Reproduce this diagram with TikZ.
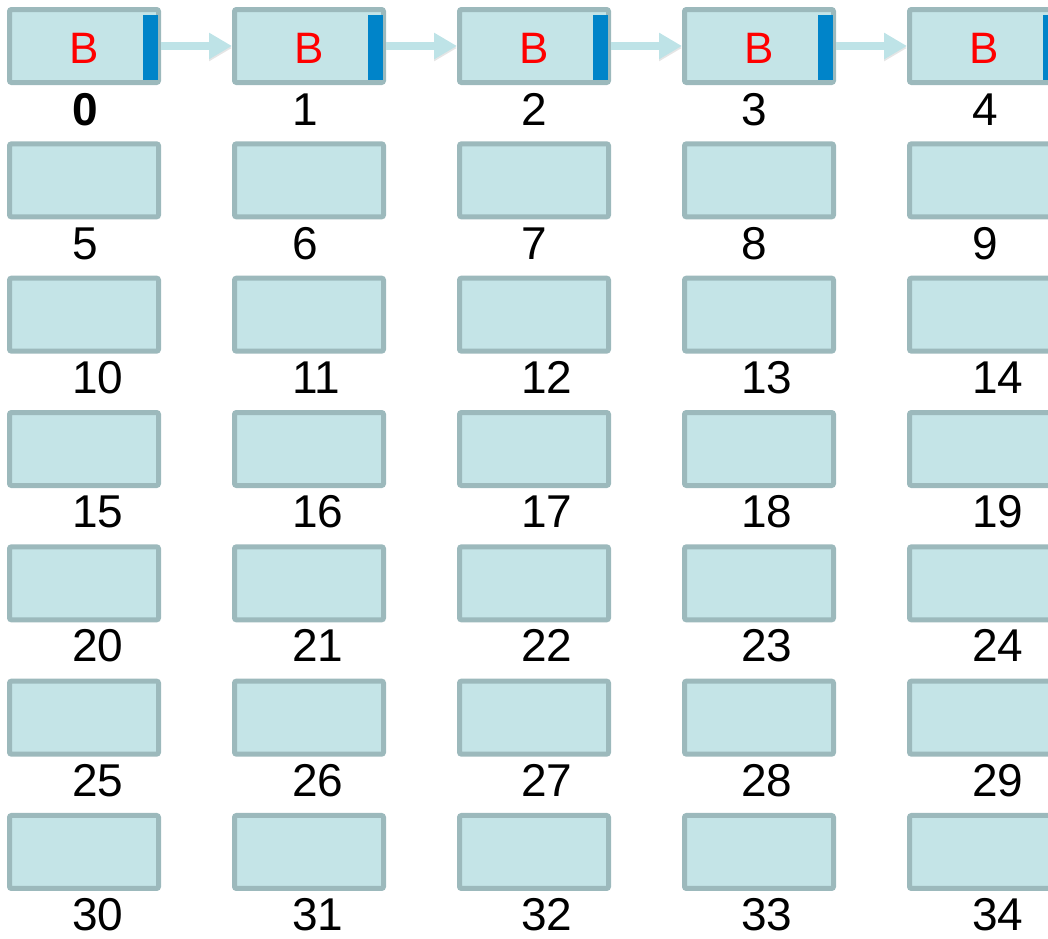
\documentclass[tikz,border=0pt]{standalone}
\usepackage{fontspec}
\setmainfont{Liberation Sans}
\usetikzlibrary{arrows.meta}
\definecolor{cellfill}{HTML}{C4E4E7}
\definecolor{celledge}{HTML}{9CB9BC}
\definecolor{barblue}{HTML}{0084C9}
\definecolor{linkcol}{HTML}{BEE3E7}

\begin{document}
\begin{tikzpicture}[
  x=1pt, y=1pt,
  cell/.style={draw=celledge, line width=5pt, fill=cellfill, rounded corners=2pt, minimum width=149pt, minimum height=73pt, inner sep=0pt},
  bar/.style={fill=barblue, minimum width=15.5pt, minimum height=65pt, inner sep=0pt, anchor=east},
  letter/.style={red, font=\fontsize{44}{48}\selectfont, inner sep=0pt},
  idx/.style={anchor=base west, inner sep=0pt, font=\fontsize{46}{50}\selectfont},
  link/.style={-{Triangle[length=23pt,width=25pt]}, line width=8pt, linkcol,
    preaction={draw=black!40, opacity=.25, transform canvas={yshift=-2pt}}}
]
  \clip (0,0) rectangle (1048,-938);

  % grid of cells with their numbers
  \foreach \r in {0,...,6}
    \foreach \c/\lx in {0/72,1/292,2/521,3/741,4/972} {
      \pgfmathtruncatemacro\n{5*\r+\c}
      \node[cell] (b\n) at (84+225*\c, -46-134.33*\r) {};
      \ifnum\n=0
        \node[idx, font=\fontsize{46}{50}\selectfont\bfseries] (l\n) at (\lx, -125-134.2*\r) {\n};
      \else
        \node[idx] (l\n) at (\lx, -125-134.2*\r) {\n};
      \fi
    }

  % first row: B with its pointer bar
  \foreach \c in {0,...,4} {
    \node[letter] (t\c) at ([yshift=-2pt]b\c.center) {B};
    \node[bar] (k\c) at ([xshift=-2.5pt,yshift=-1pt]b\c.east) {};
  }

  % links
  \foreach \c [evaluate=\c as \n using int(\c+1)] in {0,...,3}
    \draw[link] (b\c) -- (b\n);
\end{tikzpicture}
\end{document}
